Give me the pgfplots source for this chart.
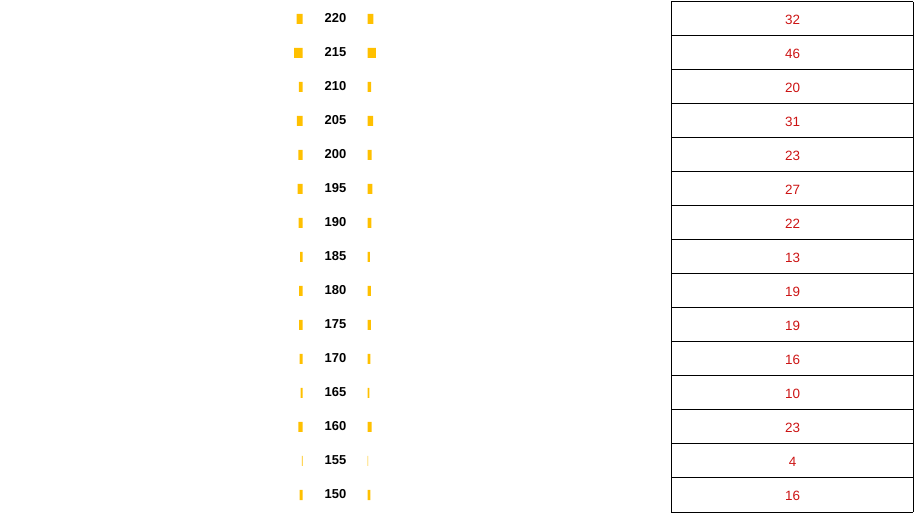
\documentclass[border=0pt]{standalone}
\usepackage{pgfplots}
\pgfplotsset{compat=1.18}
\usepackage{pgfplotstable}
\usepackage{fontspec}
\setmainfont{Liberation Sans}
\definecolor{barcol}{HTML}{FFC000}
\definecolor{valred}{RGB}{204,20,20}
\pgfplotstableread{
lab val
220 32
215 46
210 20
205 31
200 23
195 27
190 22
185 13
180 19
175 19
170 16
165 10
160 23
155 4
150 16
}\data
\begin{document}
\begin{tikzpicture}
\pgfplotsset{base/.style={scale only axis, hide axis, ymin=147.353, ymax=222.794, height=513bp, clip=false}}
% main axis: labels and table
\begin{axis}[base, at={(0,0)}, anchor=south west, width=916bp, xmin=0, xmax=916]
  \addplot[draw=none, mark=none, nodes near coords={\pgfplotspointmeta}, point meta=explicit symbolic,
    every node near coord/.append style={anchor=center, yshift=0.5bp, font=\fontsize{13}{15}\selectfont\bfseries, text=black}]
    table[x expr=335.5, y=lab, meta=lab] {\data};
  \addplot[draw=none, mark=none, nodes near coords={\pgfplotspointmeta}, point meta=explicit symbolic,
    every node near coord/.append style={anchor=center, yshift=-0.5bp, font=\fontsize{13.5}{15}\selectfont, text=valred}]
    table[x expr=792.5, y=lab, meta=val] {\data};
  \foreach \k in {0,...,15} {
    \pgfmathsetmacro{\yy}{222.5-5*\k}
    \edef\tmp{\noexpand\draw[black, line width=1bp] (axis cs:671,\yy) -- (axis cs:913,\yy);}
    \tmp
  }
  \draw[black, line width=1bp] (axis cs:671,222.5) -- (axis cs:671,147.5);
  \draw[black, line width=1bp] (axis cs:913,222.5) -- (axis cs:913,147.5);
\end{axis}
% left bars
\begin{axis}[base, at={(0,0)}, anchor=south west, width=302.5bp, xmin=0, xmax=1680.6, x dir=reverse, xbar, bar width=10bp]
  \addplot[fill=barcol, draw=none] table[x=val, y=lab] {\data};
\end{axis}
% right bars
\begin{axis}[base, at={(367.5bp,0)}, anchor=south west, width=548.5bp, xmin=0, xmax=3047.2, xbar, bar width=10bp]
  \addplot[fill=barcol, draw=none] table[x=val, y=lab] {\data};
\end{axis}
\pgfresetboundingbox
\useasboundingbox (0,0) rectangle (916bp,513bp);
\end{tikzpicture}
\end{document}
